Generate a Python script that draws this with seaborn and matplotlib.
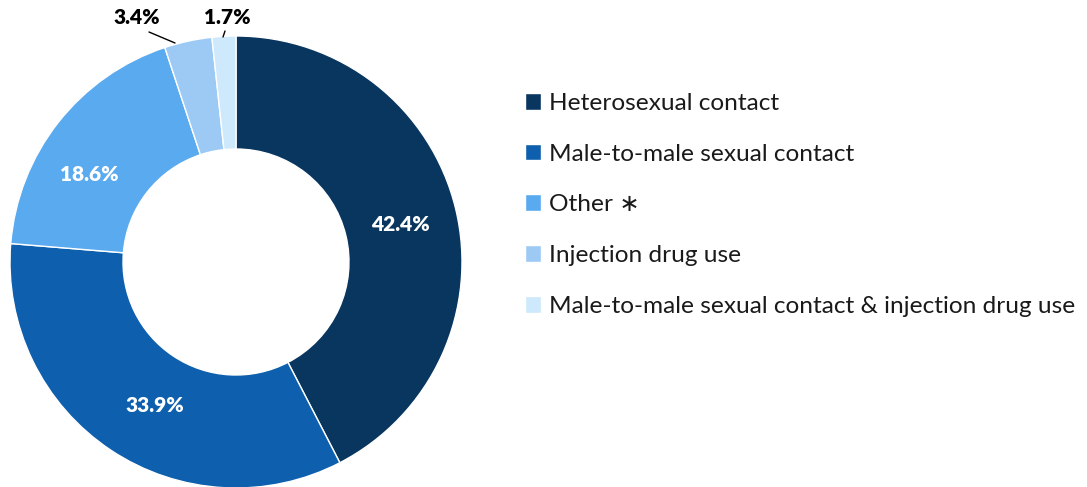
import matplotlib
matplotlib.use("Agg")
import matplotlib.pyplot as plt
import seaborn as sns

categories = [
    "Heterosexual contact",
    "Male-to-male sexual contact",
    "Other \u2217",
    "Injection drug use",
    "Male-to-male sexual contact & injection drug use",
]
shares = [42.4, 33.9, 18.6, 3.4, 1.7]
colors = ["#08365f", "#0e5fad", "#5aaaef", "#9dcaf5", "#cde9fb"]

sns.set_theme(style="white")
plt.rcParams["font.family"] = ["Lato", "DejaVu Sans"]

fig = plt.figure(figsize=(10.87, 4.87), dpi=100)
W, H = 1087, 487
cx, cy, R = 236, 262, 226
ax = fig.add_axes([(cx - R) / W, (H - cy - R) / H, 2 * R / W, 2 * R / H])

wedges, _ = ax.pie(
    shares, colors=colors, startangle=90, counterclock=False, radius=1.0,
    wedgeprops=dict(width=0.5, edgecolor="white", linewidth=1.0),
)
ax.set_xlim(-1, 1)
ax.set_ylim(-1, 1)
ax.set_aspect("equal")
ax.axis("off")

# inner labels
inner = [(0.726, 0.168), (-0.358, -0.633), (-0.650, 0.385)]
for (x, y), v in zip(inner, shares[:3]):
    ax.text(x, y, f"{v}%", color="white", fontsize=15, fontweight="heavy",
            ha="center", va="center")

# outer labels with leader lines
def px(x, y):
    return ((x - cx) / R, (cy - y) / R)

outer = [((137, 18), (149, 32), (175, 43)), ((227, 18), (225, 31), (223, 37))]
for (lab, p0, p1), v in zip(outer, shares[3:]):
    lx, ly = px(*lab)
    ax.text(lx, ly, f"{v}%", color="black", fontsize=15, fontweight="heavy",
            ha="center", va="center")
    a, b = px(*p0), px(*p1)
    ax.plot([a[0], b[0]], [a[1], b[1]], color="black", lw=1, clip_on=False)

leg = fig.legend(
    wedges, categories, loc="upper left",
    bbox_to_anchor=(515 / W, 1 - 83 / H), frameon=False,
    fontsize=17.6, handlelength=0.68, handleheight=0.68, handletextpad=0.33,
    labelspacing=1.22, borderaxespad=0,
)
for t in leg.get_texts():
    t.set_color("#1a1a1a")

fig.savefig("out.png", dpi=100)
